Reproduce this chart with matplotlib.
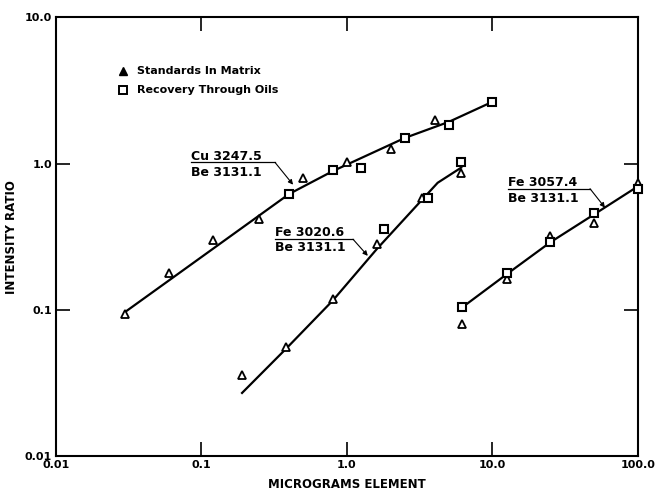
import matplotlib
matplotlib.use("Agg")
import matplotlib.pyplot as plt
from matplotlib.ticker import FixedLocator, NullLocator, FixedFormatter

# --- data (micrograms element vs intensity ratio) ---
cu_tri_x = [0.03, 0.06, 0.12, 0.25, 0.5, 1.0, 2.0, 4.0]
cu_tri_y = [0.094, 0.18, 0.30, 0.42, 0.80, 1.02, 1.25, 2.0]
cu_sq_x = [0.4, 0.8, 1.25, 2.5, 5.0, 10.0]
cu_sq_y = [0.62, 0.90, 0.94, 1.50, 1.85, 2.65]
cu_line_x = [0.03, 0.4, 0.8, 2.5, 5.0, 10.0]
cu_line_y = [0.097, 0.62, 0.89, 1.5, 1.93, 2.65]

fe1_tri_x = [0.19, 0.38, 0.8, 1.6, 3.3, 6.1]
fe1_tri_y = [0.036, 0.056, 0.118, 0.28, 0.58, 0.86]
fe1_sq_x = [1.8, 3.6, 6.1]
fe1_sq_y = [0.36, 0.58, 1.02]
fe1_line_x = [0.19, 0.38, 0.8, 1.6, 3.3, 4.2, 6.1]
fe1_line_y = [0.027, 0.054, 0.116, 0.26, 0.57, 0.74, 0.94]

fe2_tri_x = [6.2, 12.5, 25, 50, 100]
fe2_tri_y = [0.08, 0.163, 0.32, 0.39, 0.74]
fe2_sq_x = [6.2, 12.5, 25, 50, 100]
fe2_sq_y = [0.104, 0.178, 0.29, 0.46, 0.67]
fe2_line_x = [6.2, 12.5, 25, 50, 100]
fe2_line_y = [0.104, 0.175, 0.29, 0.45, 0.70]

x_ticks = [0.01, 0.1, 1.0, 10.0, 100.0]
x_ticklabels = ["0.01", "0.1", "1.0", "10.0", "100.0"]
y_ticks = [0.01, 0.1, 1.0, 10.0]
y_ticklabels = ["0.01", "0.1", "1.0", "10.0"]

legend_labels = ["Standards In Matrix", "Recovery Through Oils"]

plt.rcParams['font.family'] = ['DejaVu Sans']
plt.rcParams['font.weight'] = 'bold'

fig = plt.figure(figsize=(6.58, 4.91), dpi=100)
ax = fig.add_axes([0.0851, 0.0713, 0.8845, 0.8931])
ax.set_xscale('log')
ax.set_yscale('log')
ax.set_xlim(0.01, 100)
ax.set_ylim(0.01, 10)

tri = dict(marker='^', ms=5.5, mfc='white', mec='black', mew=1.3, ls='none',
           clip_on=False, zorder=3)
sq = dict(marker='s', ms=5.5, mfc='white', mec='black', mew=1.5, ls='none',
          clip_on=False, zorder=4)

for lx, ly in [(cu_line_x, cu_line_y), (fe1_line_x, fe1_line_y),
               (fe2_line_x, fe2_line_y)]:
    ax.plot(lx, ly, color='black', lw=1.6, zorder=2)

ax.plot(cu_tri_x, cu_tri_y, **tri)
ax.plot(cu_sq_x, cu_sq_y, **sq)
ax.plot(fe1_tri_x, fe1_tri_y, **tri)
ax.plot(fe1_sq_x, fe1_sq_y, **sq)
ax.plot(fe2_tri_x, fe2_tri_y, **tri)
ax.plot(fe2_sq_x, fe2_sq_y, **sq)

# ratio labels with underline + leader arrow
labels = [
    ("Cu 3247.5", "Be 3131.1", 0.085, 1.12, 1.02, 0.867, 0.32, (0.426, 0.718)),
    ("Fe 3020.6", "Be 3131.1", 0.32, 0.337, 0.304, 0.266, 1.10, (1.39, 0.234)),
    ("Fe 3057.4", "Be 3131.1", 12.8, 0.741, 0.674, 0.576, 46.8, (59.3, 0.50)),
]
for num, den, x0, ynum, yline, yden, xel, tip in labels:
    ax.text(x0, ynum, num, fontsize=9, va='center', ha='left')
    ax.text(x0, yden, den, fontsize=9, va='center', ha='left')
    ax.plot([x0, xel], [yline, yline], color='black', lw=0.9)
    ax.annotate("", xy=tip, xytext=(xel, yline),
                arrowprops=dict(arrowstyle='-|>', color='black', lw=0.8,
                                mutation_scale=7, shrinkA=0, shrinkB=0))

# legend drawn by hand
ax.plot([0.115], [0.878], marker='^', ms=5.5, color='black', ls='none',
        transform=ax.transAxes)
ax.text(0.14, 0.878, legend_labels[0], fontsize=8, va='center',
        transform=ax.transAxes)
ax.plot([0.115], [0.835], marker='s', ms=5.5, mfc='white', mec='black',
        mew=1.4, ls='none', transform=ax.transAxes)
ax.text(0.14, 0.835, legend_labels[1], fontsize=8, va='center',
        transform=ax.transAxes)

ax.xaxis.set_major_locator(FixedLocator(x_ticks))
ax.xaxis.set_major_formatter(FixedFormatter(x_ticklabels))
ax.yaxis.set_major_locator(FixedLocator(y_ticks))
ax.yaxis.set_major_formatter(FixedFormatter(y_ticklabels))
ax.xaxis.set_minor_locator(NullLocator())
ax.yaxis.set_minor_locator(NullLocator())
ax.tick_params(which='major', direction='in', length=10, width=1.2,
               top=True, right=True, labelsize=8, pad=3)
for s in ax.spines.values():
    s.set_linewidth(1.5)

ax.set_xlabel("MICROGRAMS ELEMENT", fontsize=8.5, fontweight='bold')
ax.set_ylabel("INTENSITY RATIO", fontsize=8.5, fontweight='bold')
ax.xaxis.set_label_coords(0.5, -0.066)
ax.yaxis.set_label_coords(-0.076, 0.5)
ax.xaxis.label.set_va('center')
ax.yaxis.label.set_va('center')

fig.savefig("out.png", dpi=100)
